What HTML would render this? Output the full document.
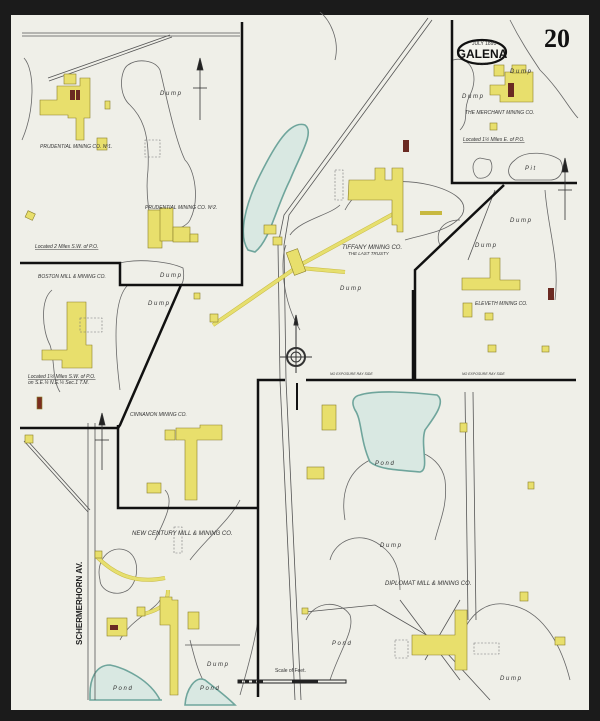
<!DOCTYPE html>
<html><head><meta charset="utf-8"><style>
html,body{margin:0;padding:0;background:#1b1b1b;}
svg{display:block}
text{font-family:"Liberation Sans",sans-serif;font-style:italic;fill:#333}
</style></head><body>
<svg width="600" height="721" viewBox="0 0 600 721" xmlns="http://www.w3.org/2000/svg">
<rect x="0" y="0" width="600" height="721" fill="#1b1b1b"/>
<rect x="11" y="15" width="578" height="695" fill="#efefe8"/>
<g fill="none" stroke="#666" stroke-width="0.8">
<!-- dump outlines -->
<path d="M128,65 C120,70 118,95 130,105 C140,115 150,130 148,170 C145,195 150,220 153,228 C160,235 185,230 190,220 C200,200 195,170 185,160 C175,140 165,90 160,70 C155,60 138,58 128,65Z"/>
<path d="M24,58 C35,70 35,110 22,140"/>
<path d="M120,263 C140,258 170,262 183,268 C185,280 182,285 180,285"/>
<path d="M52,290 C40,300 42,330 50,345 C55,360 52,380 60,392"/>
<path d="M128,285 C112,300 115,350 120,390"/>
<path d="M345,210 C360,180 400,178 430,185 C450,190 470,200 462,215 C450,232 420,235 405,240"/>
<path d="M286,245 C280,260 282,300 300,330"/>
<path d="M340,205 C330,215 300,220 290,235"/>
<path d="M320,12 C330,20 340,40 335,60"/>
<path d="M453,60 C470,55 480,75 470,95 C462,110 470,120 460,130"/>
<path d="M510,20 C520,40 530,55 540,70 C560,90 570,110 578,118"/>
<path d="M515,160 C525,150 550,152 560,160 C566,170 560,180 550,180 L515,180 C505,175 508,165 515,160Z"/>
<path d="M480,158 C470,160 472,175 478,178 C490,180 495,168 490,160Z"/>
<path d="M440,245 C435,235 440,220 460,220"/>
<path d="M545,190 C548,230 560,260 555,300"/>
<path d="M345,520 C340,490 350,470 370,460 C400,440 440,450 445,480 C448,505 440,520 435,540"/>
<path d="M330,560 C335,540 360,530 380,545 C395,555 400,570 400,590"/>
<path d="M306,620 C315,600 340,600 350,615 C355,630 340,650 330,680"/>
<path d="M460,640 C470,610 490,600 510,605 C540,610 560,640 570,680"/>
<path d="M100,580 C95,560 110,545 125,550 C140,555 140,580 128,590 C115,598 100,590 100,580Z"/>
<path d="M155,540 C165,520 175,500 165,490"/>
<path d="M190,560 C205,540 230,520 240,500"/>
<path d="M120,640 C130,620 155,610 160,600"/>
<path d="M190,640 C195,660 200,680 210,690"/>
<path d="M240,695 C250,660 255,640 258,620"/>
</g>
<!-- ponds -->
<g fill="#d9e8e2" stroke="#6fa59c" stroke-width="1.6">
<path d="M248,250 C238,235 245,205 260,175 C275,145 290,120 305,125 C315,132 300,155 290,180 C275,210 270,240 255,252Z"/>
<path d="M360,395 C375,390 410,392 437,395 C447,402 432,420 425,430 C420,445 430,470 420,472 C400,470 380,470 370,462 C360,440 362,420 355,410 C350,400 355,396 360,395Z"/>
<path d="M90,694 C90,680 95,665 110,665 C125,668 150,680 160,700 L162,700 L90,700Z"/>
<path d="M185,705 C186,690 195,675 205,680 C215,688 225,695 235,705Z"/>
</g>
<!-- railroads/spurs -->
<g fill="none" stroke="#555" stroke-width="0.8">
<path d="M22,33 L240,33 M22,36 L240,36"/>
<path d="M48,78 L170,35 M49,81 L172,37"/>
<path d="M428,18 L284,215 L278,245 L280,380 L295,700"/>
<path d="M432,20 L289,215 L284,245 L286,380 L301,700"/>
<path d="M24,441 L88,512 M26,439 L90,510"/>
<path d="M88,423 L88,700 M95,423 L95,700"/>
<path d="M473,392 L476,620 M465,392 L468,620"/>
<path d="M305,612 L375,605 L435,640 L490,700"/>
<path d="M495,190 L468,260"/>
<path d="M400,600 L460,680 M425,660 L460,600"/>
<path d="M185,645 L240,645"/>
</g>
<!-- tramways yellow -->
<g fill="none" stroke="#c8b940" stroke-width="4">
<path d="M213,325 L300,265 L395,213"/>
<path d="M300,268 L345,272"/>
<path d="M420,213 L442,213"/>
<path d="M96,556 C110,570 130,585 165,578"/>
<path d="M168,590 C168,605 160,610 140,615"/>
</g>
<g fill="none" stroke="#e6df6e" stroke-width="3">
<path d="M213,325 L300,265 L395,213"/>
<path d="M300,268 L345,272"/>
<path d="M96,556 C110,570 130,585 165,578"/>
<path d="M168,590 C168,605 160,610 140,615"/>
</g>
<!-- buildings -->
<g fill="#e8df6c" stroke="#8a7f2a" stroke-width="0.6">
<path d="M57,86 L80,86 L80,78 L90,78 L90,118 L84,118 L84,140 L76,140 L76,118 L68,118 L68,115 L40,115 L40,100 L57,100Z"/>
<rect x="64" y="74" width="12" height="10"/>
<rect x="148" y="210" width="14" height="38"/>
<rect x="160" y="208" width="13" height="33"/>
<rect x="173" y="227" width="17" height="15"/>
<rect x="190" y="234" width="8" height="8"/>
<rect x="26" y="212" width="8" height="7" transform="rotate(25 30 216)"/>
<path d="M67,302 L86,302 L86,345 L92,345 L92,368 L62,368 L62,360 L42,360 L42,350 L67,350Z"/>
<rect x="37" y="397" width="5" height="12" fill="#7a2d20"/>
<rect x="105" y="101" width="5" height="8"/>
<rect x="97" y="138" width="10" height="12"/>
<path d="M349,180 L375,180 L375,168 L385,168 L385,180 L392,180 L392,168 L403,168 L403,232 L397,232 L397,225 L392,225 L392,200 L348,200Z"/>
<rect x="494" y="65" width="10" height="11"/>
<path d="M505,72 L533,72 L533,102 L500,102 L500,95 L490,95 L490,85 L505,85Z"/>
<rect x="512" y="65" width="14" height="8"/>
<rect x="490" y="123" width="7" height="7"/>
<path d="M490,258 L500,258 L500,280 L520,280 L520,290 L500,290 L462,290 L462,278 L490,278Z"/>
<rect x="463" y="303" width="9" height="14"/>
<rect x="485" y="313" width="8" height="7"/>
<rect x="488" y="345" width="8" height="7"/>
<rect x="542" y="346" width="7" height="6"/>
<rect x="290" y="250" width="12" height="24" transform="rotate(-20 296 262)"/>
<rect x="264" y="225" width="12" height="9"/>
<rect x="273" y="237" width="9" height="8"/>
<rect x="194" y="293" width="6" height="6"/>
<rect x="210" y="314" width="8" height="8"/>
<rect x="103" y="75" width="0" height="0"/>
<path d="M182,428 L200,428 L200,425 L222,425 L222,440 L197,440 L197,500 L185,500 L185,440 L176,440 L176,428Z"/>
<rect x="165" y="430" width="10" height="10"/>
<rect x="147" y="483" width="14" height="10"/>
<rect x="322" y="405" width="14" height="25"/>
<rect x="307" y="467" width="17" height="12"/>
<rect x="460" y="423" width="7" height="9"/>
<rect x="528" y="482" width="6" height="7"/>
<rect x="520" y="592" width="8" height="9"/>
<rect x="555" y="637" width="10" height="8"/>
<path d="M160,597 L172,597 L172,600 L178,600 L178,695 L170,695 L170,625 L160,625Z"/>
<rect x="188" y="612" width="11" height="17"/>
<rect x="107" y="618" width="20" height="18"/>
<rect x="137" y="607" width="8" height="9"/>
<rect x="95" y="551" width="7" height="7"/>
<rect x="25" y="435" width="8" height="8"/>
<path d="M412,635 L455,635 L455,610 L467,610 L467,670 L455,670 L455,655 L412,655Z"/>
<rect x="302" y="608" width="6" height="6"/>
</g>
<g fill="#6b2a22">
<rect x="70" y="90" width="5" height="10"/><rect x="76" y="90" width="4" height="10"/>
<rect x="403" y="140" width="6" height="12"/>
<rect x="508" y="83" width="6" height="14"/>
<rect x="548" y="288" width="6" height="12"/>
<rect x="110" y="625" width="8" height="5"/>
</g>
<g fill="none" stroke="#777" stroke-width="0.6" stroke-dasharray="2,1.5">
<rect x="145" y="140" width="15" height="17"/>
<rect x="80" y="318" width="22" height="14"/>
<rect x="174" y="527" width="8" height="26"/>
<rect x="395" y="640" width="13" height="18"/>
<rect x="474" y="643" width="25" height="11"/>
<rect x="335" y="170" width="8" height="30"/>
</g>
<!-- panel borders -->
<g fill="none" stroke="#111" stroke-width="2.5">
<path d="M242,22 L242,285 L120,285 L120,263 L20,263"/>
<path d="M181,285 L120,425 L118,428 L20,428"/>
<path d="M118,425 L118,508 L258,508"/>
<path d="M258,697 L258,380 L285,380"/>
<path d="M306,380 L576,380"/>
<path d="M413,290 L413,380"/>
<path d="M452,20 L452,183 L577,183"/>
<path d="M504,185 L415,270 L415,380"/>
</g>
<line x1="297" y1="383" x2="297" y2="410" stroke="#111" stroke-width="2"/>
<!-- north arrows -->
<g stroke="#333" stroke-width="0.8" fill="#222">
<line x1="200" y1="60" x2="200" y2="120"/><line x1="193" y1="88" x2="207" y2="88"/>
<path d="M200,58 L197,70 L203,70Z"/>
<line x1="565" y1="160" x2="565" y2="220"/><line x1="558" y1="190" x2="572" y2="190"/>
<path d="M565,158 L562,172 L568,172Z"/>
<line x1="102" y1="415" x2="102" y2="470"/><line x1="95" y1="440" x2="109" y2="440"/>
<path d="M102,413 L99,425 L105,425Z"/>
</g>
<!-- compass -->
<g transform="translate(296,357)" stroke="#333" fill="none">
<circle r="9" stroke-width="2"/><circle r="5" stroke-width="1"/>
<line x1="0" y1="-40" x2="0" y2="16"/><line x1="-16" y1="0" x2="16" y2="0"/>
<path d="M0,-42 L-2,-32 L2,-32Z" fill="#222"/>
</g>
<!-- scale -->
<g stroke="#222" fill="none">
<rect x="238" y="680" width="108" height="3" stroke-width="1"/>
<line x1="238" y1="681.5" x2="265" y2="681.5" stroke-width="3" stroke-dasharray="4,3"/>
<line x1="292" y1="681.5" x2="318" y2="681.5" stroke-width="3"/>
</g>
<text x="275" y="672" font-size="5" style="font-style:normal">Scale of Feet.</text>
<!-- title -->
<ellipse cx="482" cy="52" rx="24" ry="12" fill="#f5f5ee" stroke="#111" stroke-width="2.2"/>
<text x="472" y="45" font-size="5" style="font-style:normal">JULY 1891</text>
<text x="482" y="58" font-size="12" text-anchor="middle" style="font-style:normal;font-weight:bold;fill:#111">GALENA</text>
<text x="479" y="65" font-size="4" style="font-style:normal">KAS.</text>
<text x="544" y="47" font-size="26" style="font-family:'Liberation Serif',serif;font-style:normal;font-weight:bold;fill:#111">20</text>
<!-- labels -->
<g font-size="5">
<text x="40" y="148">PRUDENTIAL MINING CO. Nº1.</text>
<text x="145" y="209">PRUDENTIAL MINING CO. Nº2.</text>
<text x="35" y="248" text-decoration="underline">Located 2 Miles S.W. of P.O.</text>
<text x="38" y="278">BOSTON MILL &amp; MINING CO.</text>
<text x="28" y="378" text-decoration="underline">Located 1½ Miles S.W. of P.O.</text>
<text x="28" y="384">on S.E.¼ N.E.¼ Sec.1 T.M.</text>
<text x="130" y="416">CINNAMON MINING CO.</text>
<text x="342" y="249" font-size="6">TIFFANY MINING CO.</text>
<text x="348" y="255" font-size="4.5">THE LAST TRUSTY</text>
<text x="465" y="114">THE MERCHANT MINING CO.</text>
<text x="463" y="141" text-decoration="underline">Located 1½ Miles E. of P.O.</text>
<text x="475" y="305">ELEVETH MINING CO.</text>
<text x="132" y="535" font-size="6">NEW CENTURY MILL &amp; MINING CO.</text>
<text x="385" y="585" font-size="6">DIPLOMAT MILL &amp; MINING CO.</text>
<text x="330" y="375" font-size="3.5">NO EXPOSURE RAY SIDE</text>
<text x="462" y="375" font-size="3.5">NO EXPOSURE RAY SIDE</text>
</g>
<g font-size="6" fill="#555">
<text x="160" y="95">D u m p</text><text x="160" y="277">D u m p</text><text x="148" y="305">D u m p</text>
<text x="340" y="290">D u m p</text><text x="510" y="73">D u m p</text><text x="462" y="98">D u m p</text>
<text x="510" y="222">D u m p</text><text x="475" y="247">D u m p</text>
<text x="375" y="465">P o n d</text><text x="380" y="547">D u m p</text><text x="332" y="645">P o n d</text>
<text x="500" y="680">D u m p</text><text x="207" y="666">D u m p</text>
<text x="113" y="690">P o n d</text><text x="200" y="690">P o n d</text>
<text x="525" y="170">P i t</text>
</g>
<text x="82" y="645" font-size="8" transform="rotate(-90 82 645)" style="font-style:normal;font-weight:bold;fill:#222">SCHERMERHORN AV.</text>
</svg>
</body></html>
